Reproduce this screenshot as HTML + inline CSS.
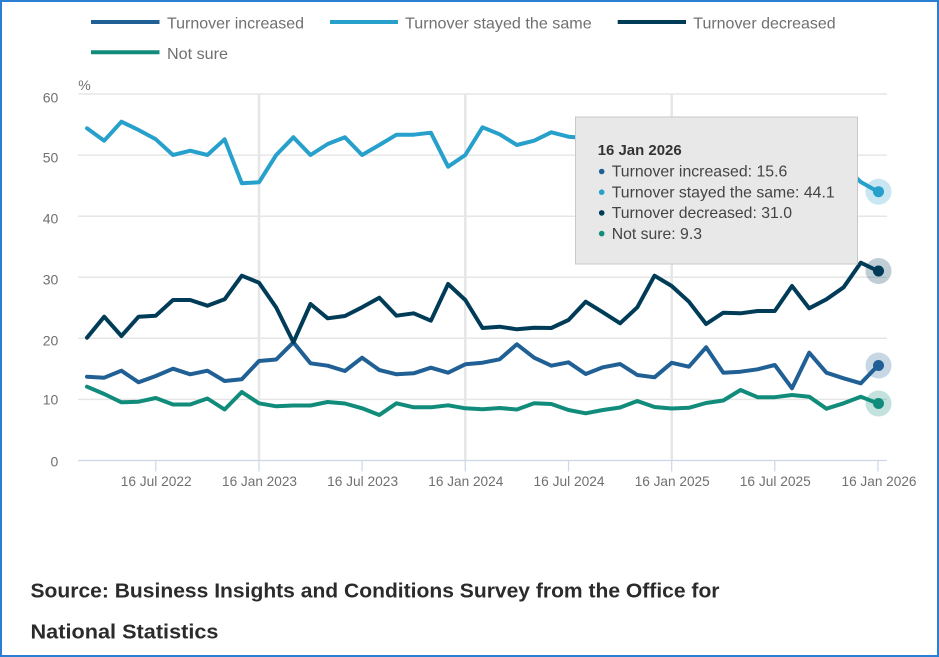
<!DOCTYPE html>
<html>
<head>
<meta charset="utf-8">
<style>
  html,body{margin:0;padding:0;background:#fff;}
  svg{display:block;}
  text{font-family:"Liberation Sans",Arial,sans-serif;}
</style>
</head>
<body>
<svg width="939" height="657" viewBox="0 0 939 657" xmlns="http://www.w3.org/2000/svg">
  <rect x="1" y="1" width="937" height="655" fill="#fff" stroke="#2a7fd2" stroke-width="2"/>

  <!-- Legend -->
  <g stroke-width="4" stroke-linecap="butt">
    <line x1="91" y1="22" x2="159.5" y2="22" stroke="#206095"/>
    <line x1="330" y1="22" x2="398" y2="22" stroke="#27a0cc"/>
    <line x1="617.7" y1="22" x2="686" y2="22" stroke="#003c57"/>
    <line x1="91" y1="52.3" x2="159.5" y2="52.3" stroke="#118c7b"/>
  </g>
  <g font-size="16" fill="#707070">
    <text x="167" y="28.3" textLength="137" lengthAdjust="spacingAndGlyphs">Turnover increased</text>
    <text x="405" y="28.3" textLength="186.7" lengthAdjust="spacingAndGlyphs">Turnover stayed the same</text>
    <text x="693.3" y="28.3" textLength="142.4" lengthAdjust="spacingAndGlyphs">Turnover decreased</text>
    <text x="167" y="59" textLength="61" lengthAdjust="spacingAndGlyphs">Not sure</text>
  </g>

  <!-- % label -->
  <text x="78.3" y="90" font-size="14" fill="#707070">%</text>

  <!-- Horizontal gridlines -->
  <g stroke="#e6e6e6" stroke-width="1.5">
    <line x1="78" y1="94" x2="887" y2="94"/>
    <line x1="78" y1="155.1" x2="887" y2="155.1"/>
    <line x1="78" y1="216.2" x2="887" y2="216.2"/>
    <line x1="78" y1="277.2" x2="887" y2="277.2"/>
    <line x1="78" y1="338.3" x2="887" y2="338.3"/>
    <line x1="78" y1="399.4" x2="887" y2="399.4"/>
  </g>
  <!-- Vertical gridlines -->
  <g stroke="#e6e6e6" stroke-width="2.5">
    <line x1="259" y1="94" x2="259" y2="460.5"/>
    <line x1="465.3" y1="94" x2="465.3" y2="460.5"/>
    <line x1="671.7" y1="94" x2="671.7" y2="460.5"/>
  </g>
  <!-- Axis line and ticks -->
  <g stroke="#ccd6eb" stroke-width="1.2">
    <line x1="78" y1="460.5" x2="887" y2="460.5"/>
    <line x1="155.8" y1="460.5" x2="155.8" y2="471.5"/>
    <line x1="259" y1="460.5" x2="259" y2="471.5"/>
    <line x1="362.1" y1="460.5" x2="362.1" y2="471.5"/>
    <line x1="465.3" y1="460.5" x2="465.3" y2="471.5"/>
    <line x1="568.5" y1="460.5" x2="568.5" y2="471.5"/>
    <line x1="671.7" y1="460.5" x2="671.7" y2="471.5"/>
    <line x1="774.8" y1="460.5" x2="774.8" y2="471.5"/>
    <line x1="878" y1="460.5" x2="878" y2="471.5"/>
  </g>

  <!-- Y labels -->
  <g font-size="14" fill="#707070" text-anchor="end">
    <text x="58.3" y="102.5">60</text>
    <text x="58.3" y="162.3">50</text>
    <text x="58.3" y="223.3">40</text>
    <text x="58.3" y="284.3">30</text>
    <text x="58.3" y="345.3">20</text>
    <text x="58.3" y="404.5">10</text>
    <text x="58.3" y="466.7">0</text>
  </g>

  <!-- X labels -->
  <g font-size="14" fill="#707070" text-anchor="middle">
    <text x="156.2" y="486" textLength="71" lengthAdjust="spacingAndGlyphs">16 Jul 2022</text>
    <text x="259.5" y="486" textLength="75" lengthAdjust="spacingAndGlyphs">16 Jan 2023</text>
    <text x="362.6" y="486" textLength="71" lengthAdjust="spacingAndGlyphs">16 Jul 2023</text>
    <text x="465.8" y="486" textLength="75" lengthAdjust="spacingAndGlyphs">16 Jan 2024</text>
    <text x="569" y="486" textLength="71" lengthAdjust="spacingAndGlyphs">16 Jul 2024</text>
    <text x="672.2" y="486" textLength="75" lengthAdjust="spacingAndGlyphs">16 Jan 2025</text>
    <text x="775.3" y="486" textLength="71" lengthAdjust="spacingAndGlyphs">16 Jul 2025</text>
    <text x="879" y="486" textLength="75" lengthAdjust="spacingAndGlyphs">16 Jan 2026</text>
  </g>

  <!-- Series -->
  <g fill="none" stroke-width="4" stroke-linejoin="round" stroke-linecap="round">
    <polyline stroke="#206095" points="87,376.7 104.2,377.7 121.4,370.7 138.6,382.3 155.8,376 173,368.7 190.2,374.3 207.4,370.7 224.6,381 241.8,379.3 259,361 276.2,359.5 293.4,342.3 310.5,363.3 327.7,365.7 344.9,371 362.1,357.7 379.3,370 396.5,374.3 413.7,373.3 430.9,367.7 448.1,372.7 465.3,364.3 482.5,362.7 499.7,359.3 516.9,344.3 534.1,357.7 551.3,365.7 568.5,362.3 585.7,374 602.9,367.3 620.1,364 637.3,375 654.5,377.3 671.7,362.8 688.9,366.7 706.1,347.3 723.3,372.7 740.5,371.7 757.6,369.3 774.8,365 792,388.3 809.2,352.7 826.4,372.7 843.6,378.3 860.8,383.3 878,365.5"/>
    <polyline stroke="#27a0cc" points="87,128.3 104.2,140.7 121.4,121.7 138.6,130 155.8,139.3 173,155 190.2,150.7 207.4,155 224.6,139.3 241.8,183.3 259,182.3 276.2,155 293.4,137.3 310.5,155 327.7,144 344.9,137.3 362.1,155 379.3,145 396.5,134.7 413.7,134.7 430.9,132.7 448.1,166.7 465.3,155 482.5,127.3 499.7,134.3 516.9,145 534.1,140.7 551.3,132.3 568.5,136.7 585.7,138 602.9,140 620.1,136 637.3,148 654.5,145 671.7,140 688.9,150 706.1,145 723.3,152 740.5,150 757.6,150 774.8,145 792,150 809.2,155 826.4,160 843.6,166 860.8,182 878,191.7"/>
    <polyline stroke="#003c57" points="87,337.7 104.2,316.7 121.4,336 138.6,316.7 155.8,315.7 173,300 190.2,300 207.4,305.7 224.6,299.3 241.8,275.7 259,282.7 276.2,307.5 293.4,342.3 310.5,304 327.7,318.3 344.9,316 362.1,307.3 379.3,297.7 396.5,315.7 413.7,313.3 430.9,320.7 448.1,284 465.3,300 482.5,328 499.7,326.7 516.9,329.3 534.1,327.7 551.3,328 568.5,320 585.7,301.7 602.9,312.3 620.1,323.3 637.3,307.3 654.5,275.7 671.7,286 688.9,301.7 706.1,324 723.3,312.7 740.5,313.3 757.6,311 774.8,311 792,286 809.2,308.3 826.4,299.3 843.6,287.3 860.8,262.7 878,271"/>
    <polyline stroke="#118c7b" points="87,386.7 104.2,394 121.4,402.3 138.6,401.7 155.8,398 173,404.5 190.2,404.5 207.4,398.5 224.6,409.5 241.8,392 259,403.3 276.2,406.3 293.4,405.5 310.5,405.5 327.7,402 344.9,403.5 362.1,408.3 379.3,415 396.5,403.3 413.7,407.3 430.9,407.3 448.1,405.3 465.3,408.3 482.5,409.3 499.7,408 516.9,409.5 534.1,403.3 551.3,404 568.5,410 585.7,413.3 602.9,410 620.1,407.5 637.3,401 654.5,407 671.7,408.5 688.9,407.8 706.1,403 723.3,400.5 740.5,390 757.6,397.2 774.8,397.2 792,395 809.2,396.7 826.4,408.7 843.6,403.3 860.8,396.7 878,403.5"/>
  </g>

  <!-- Hover markers -->
  <circle cx="878.5" cy="191.7" r="13" fill="#27a0cc" fill-opacity="0.25"/>
  <circle cx="878.5" cy="191.7" r="5.5" fill="#27a0cc"/>
  <circle cx="878.5" cy="271" r="13" fill="#003c57" fill-opacity="0.25"/>
  <circle cx="878.5" cy="271" r="5.5" fill="#003c57"/>
  <circle cx="878.5" cy="365.5" r="13" fill="#206095" fill-opacity="0.25"/>
  <circle cx="878.5" cy="365.5" r="5.5" fill="#206095"/>
  <circle cx="878.5" cy="403.5" r="13" fill="#118c7b" fill-opacity="0.25"/>
  <circle cx="878.5" cy="403.5" r="5.5" fill="#118c7b"/>

  <!-- Tooltip -->
  <rect x="575.5" y="117" width="282" height="147" fill="#e8e8e8" stroke="#c8c8c8" stroke-width="1"/>
  <text x="597.7" y="155" font-size="15" font-weight="bold" fill="#333" textLength="84" lengthAdjust="spacingAndGlyphs">16 Jan 2026</text>
  <circle cx="601.7" cy="171.5" r="2.8" fill="#206095"/>
  <circle cx="601.7" cy="192.2" r="2.8" fill="#27a0cc"/>
  <circle cx="601.7" cy="212.9" r="2.8" fill="#003c57"/>
  <circle cx="601.7" cy="233.6" r="2.8" fill="#118c7b"/>
  <g font-size="16" fill="#444">
    <text x="611.7" y="176.7" textLength="175.6" lengthAdjust="spacingAndGlyphs">Turnover increased: 15.6</text>
    <text x="611.7" y="197.4" textLength="223" lengthAdjust="spacingAndGlyphs">Turnover stayed the same: 44.1</text>
    <text x="611.7" y="218.1" textLength="180.3" lengthAdjust="spacingAndGlyphs">Turnover decreased: 31.0</text>
    <text x="611.7" y="238.8" textLength="90.3" lengthAdjust="spacingAndGlyphs">Not sure: 9.3</text>
  </g>

  <!-- Source -->
  <g font-size="20.5" font-weight="bold" fill="#2b2b2b">
    <text x="30.5" y="597.3" textLength="689" lengthAdjust="spacingAndGlyphs">Source: Business Insights and Conditions Survey from the Office for</text>
    <text x="30.5" y="638.3" textLength="188" lengthAdjust="spacingAndGlyphs">National Statistics</text>
  </g>
</svg>
</body>
</html>
